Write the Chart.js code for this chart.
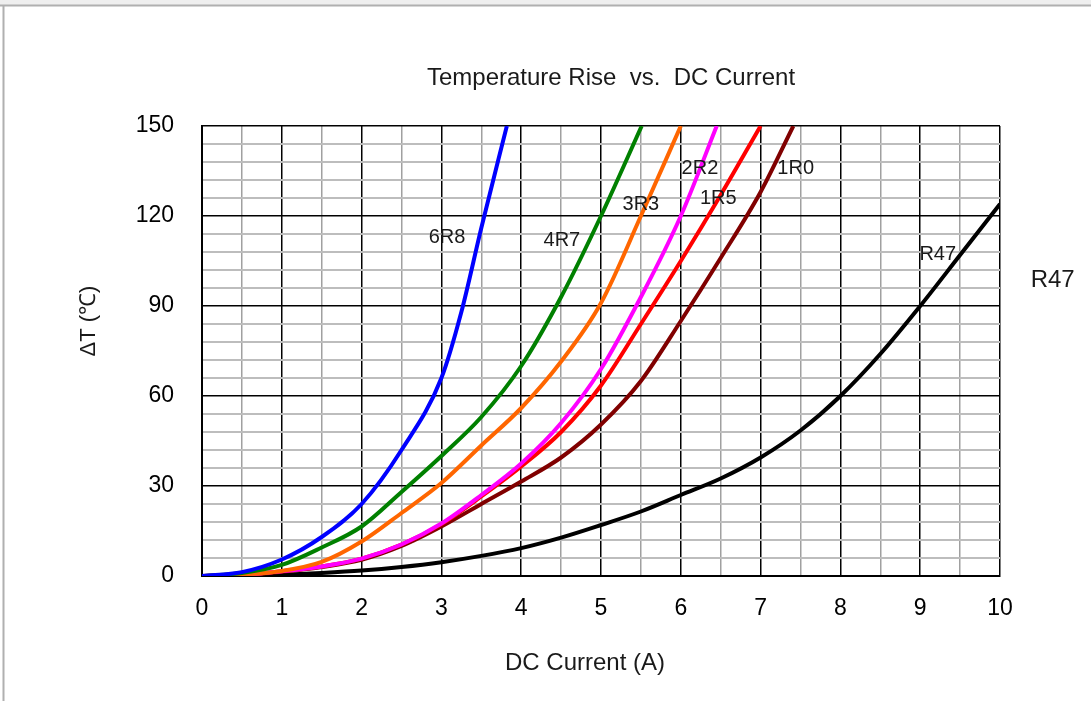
<!DOCTYPE html>
<html>
<head>
<meta charset="utf-8">
<script src="https://cdn.jsdelivr.net/npm/chart.js@4.4.1/dist/chart.umd.min.js"></script>
<style>
  html, body { margin: 0; padding: 0; background: #fff; }
  #wrap { width: 1091px; height: 701px; position: relative; }
</style>
</head>
<body>
<div id="wrap"><canvas id="chart" width="1091" height="701"></canvas></div>
<script>
// values (current in A, temperature rise in degC)
const s6R8 = [[0,0],[0.5,1.3],[1,5.5],[1.5,13],[2,24],[2.5,42],[3,66],[3.25,88],[3.5,116],[3.82,150]];
const s4R7 = [[0,0],[0.5,1],[1,3.7],[1.5,9.5],[2,16.5],[2.5,28],[3,40],[3.5,53],[4,70],[4.5,93],[5,120],[5.51,150]];
const s3R3 = [[0,0],[0.5,0.5],[1,1.7],[1.5,4.7],[2,11.5],[2.5,21],[3,31],[3.5,43.5],[4,56],[4.5,71.5],[5,91],[5.5,120],[6,150]];
const s2R2 = [[0,0],[0.5,0.4],[1,1.6],[1.5,3.2],[2,5.8],[2.5,10.5],[3,17.5],[3.5,27],[4,37.5],[4.5,51],[5,69],[5.5,93],[6,120],[6.45,150]];
const s1R5 = [[0,0],[0.5,0.4],[1,1.6],[1.5,3.2],[2,5.8],[2.5,10.5],[3,17.3],[3.5,26.5],[4,36.5],[4.5,48],[5,63.5],[5.5,84],[6,105],[6.5,127],[7,150]];
const s1R0 = [[0,0],[0.5,0.3],[1,1.4],[1.5,3],[2,5.4],[2.5,10],[3,16.5],[3.5,24],[4,31.5],[4.5,39.5],[5,50.5],[5.5,65],[6,85],[6.5,106],[7,128],[7.41,150]];
const sR47 = [[0,0],[0.5,0.1],[1,0.4],[1.5,1],[2,1.8],[2.5,3],[3,4.6],[3.5,6.7],[4,9.3],[4.5,12.8],[5,17],[5.5,21.5],[6,27],[6.5,32.5],[7,39.5],[7.5,48.5],[8,60],[8.5,74],[9,90],[9.5,107],[10,124]];

const seriesNames = ['6R8', '4R7', '3R3', '2R2', '1R5', '1R0', 'R47'];
const seriesData = [s6R8, s4R7, s3R3, s2R2, s1R5, s1R0, sR47];
const seriesColors = ['#0000FF', '#008000', '#FF6600', '#FF00FF', '#FF0000', '#800000', '#000000'];

// curve tags placed in data units
const tagText = ['6R8', '4R7', '3R3', '2R2', '1R5', '1R0', 'R47'];
const tagX = [3.07, 4.51, 5.50, 6.24, 6.47, 7.44, 9.22];
const tagY = [112.7, 111.7, 123.7, 135.7, 125.7, 135.7, 107.3];

const xTicks = [0, 1, 2, 3, 4, 5, 6, 7, 8, 9, 10];
const yTicks = [0, 30, 60, 90, 120, 150];

const FONT = '"Liberation Sans", Arial, sans-serif';

const decor = {
  id: 'decor',
  beforeDraw(chart) {
    const c = chart.ctx;
    c.save();
    c.fillStyle = '#fff';
    c.fillRect(0, 0, chart.width, chart.height);
    c.fillStyle = '#efefef';
    c.fillRect(0, 0, chart.width, 5);
    c.strokeStyle = '#b0b0b0';
    c.lineWidth = 2;
    c.beginPath();
    c.moveTo(0, 5.5); c.lineTo(chart.width, 5.5);
    c.moveTo(3.5, 5.5); c.lineTo(3.5, chart.height);
    c.stroke();
    c.restore();
  },
  afterDatasetsDraw(chart) {
    const c = chart.ctx;
    const sx = chart.scales.x, sy = chart.scales.y;
    c.save();
    c.fillStyle = '#1a1a1a';
    c.textAlign = 'center';
    c.textBaseline = 'middle';
    c.font = '20px ' + FONT;
    tagText.forEach((t, i) => {
      c.fillText(t, sx.getPixelForValue(tagX[i]), sy.getPixelForValue(tagY[i]));
    });
    // tag to the right of the plot
    c.font = '24px ' + FONT;
    c.fillText('R47', sx.getPixelForValue(10.66), sy.getPixelForValue(98.7));

    c.fillText('Temperature Rise  vs.  DC Current', 611, 78);
    c.fillText('DC Current (A)', 585, 663);
    c.translate(89, 321);
    c.rotate(-Math.PI / 2);
    c.font = '22px ' + FONT;
    c.fillText('ΔT (℃)', 0, 0);
    c.restore();
  }
};

const ctx = document.getElementById('chart').getContext('2d');
new Chart(ctx, {
  type: 'scatter',
  data: {
    datasets: seriesNames.map((name, i) => ({
      label: name,
      data: seriesData[i].map(p => ({ x: p[0], y: p[1] })),
      showLine: true,
      borderColor: seriesColors[i],
      backgroundColor: seriesColors[i],
      borderWidth: 4,
      pointRadius: 0,
      cubicInterpolationMode: 'monotone'
    }))
  },
  options: {
    responsive: false,
    animation: false,
    layout: { padding: { left: 0, right: 91, top: 126, bottom: 0 } },
    plugins: { legend: { display: false }, tooltip: { enabled: false }, title: { display: false } },
    scales: {
      x: {
        type: 'linear', min: 0, max: 10,
        afterFit: s => { s.height = 125; },
        afterBuildTicks: s => { s.ticks = []; for (let v = 0; v <= 20; v++) s.ticks.push({ value: v / 2 }); },
        border: { color: '#000', width: 2 },
        grid: {
          drawTicks: false,
          color: c => (xTicks.includes(c.tick.value) ? '#000' : '#a0a0a0'),
          lineWidth: 1.5
        },
        ticks: {
          autoSkip: false, maxRotation: 0, padding: 19,
          color: '#000',
          font: { family: FONT, size: 23 },
          callback: v => (xTicks.includes(v) ? String(v) : '')
        }
      },
      y: {
        type: 'linear', min: 0, max: 150,
        afterFit: s => { s.width = 202; },
        afterBuildTicks: s => { s.ticks = []; for (let v = 0; v <= 150; v += 6) s.ticks.push({ value: v }); },
        border: { color: '#000', width: 2 },
        grid: {
          drawTicks: false,
          color: c => (yTicks.includes(c.tick.value) ? '#000' : '#bdbdbd'),
          lineWidth: c => (yTicks.includes(c.tick.value) ? 1.5 : 2)
        },
        ticks: {
          autoSkip: false, padding: 28,
          color: '#000',
          font: { family: FONT, size: 23 },
          callback: v => (yTicks.includes(v) ? String(v) : '')
        }
      }
    }
  },
  plugins: [decor]
});
</script>
</body>
</html>
